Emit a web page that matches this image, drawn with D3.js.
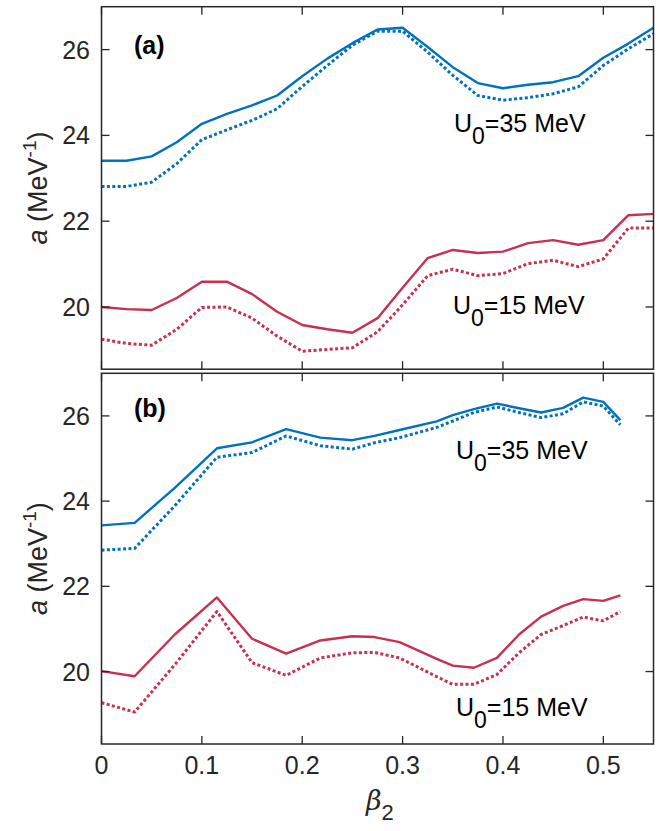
<!DOCTYPE html>
<html>
<head>
<meta charset="utf-8">
<script src="https://cdn.jsdelivr.net/npm/d3@7"></script>
<style>
  body { margin: 0; background: #fff; }
  text { font-family: "Liberation Sans", Arial, sans-serif; fill: #262626; }
</style>
</head>
<body>
<div id="chart"></div>
<script>
    // beta_2 grid and level density parameters, panel (a)
    const betaA = [0, 0.025, 0.05, 0.075, 0.1, 0.125, 0.15, 0.175, 0.2, 0.225, 0.25, 0.275,
                   0.3, 0.325, 0.35, 0.375, 0.4, 0.425, 0.45, 0.475, 0.5, 0.525, 0.55]
    const a35SolidA = [23.41, 23.41, 23.51, 23.84, 24.27, 24.50, 24.70, 24.93, 25.38, 25.79, 26.15, 26.47,
                       26.51, 26.06, 25.59, 25.22, 25.10, 25.18, 25.24, 25.38, 25.81, 26.14, 26.51]
    const a35DotA = [22.81, 22.81, 22.91, 23.34, 23.90, 24.13, 24.35, 24.62, 25.14, 25.63, 26.10, 26.43,
                     26.43, 25.94, 25.40, 24.93, 24.82, 24.88, 24.97, 25.13, 25.63, 26.02, 26.37]
    const a15SolidA = [20.00, 19.95, 19.93, 20.21, 20.59, 20.59, 20.30, 19.89, 19.58, 19.48, 19.40, 19.74,
                       20.45, 21.14, 21.33, 21.26, 21.29, 21.49, 21.56, 21.45, 21.56, 22.14, 22.17]
    const a15DotA = [19.25, 19.15, 19.11, 19.48, 19.99, 20.00, 19.74, 19.32, 18.97, 19.01, 19.05, 19.42,
                     20.05, 20.73, 20.88, 20.73, 20.78, 21.01, 21.09, 20.94, 21.12, 21.84, 21.84]

    // panel (b)
    const betaB = [0, 0.033, 0.073, 0.115, 0.15, 0.184, 0.218, 0.25, 0.272, 0.297,
                   0.334, 0.35, 0.371, 0.394, 0.416, 0.438, 0.46, 0.48, 0.5, 0.517]
    const a35SolidB = [23.43, 23.49, 24.31, 25.24, 25.38, 25.69, 25.49, 25.43, 25.53, 25.67,
                       25.87, 26.02, 26.16, 26.29, 26.18, 26.08, 26.19, 26.43, 26.33, 25.90]
    const a35DotB = [22.85, 22.89, 23.89, 25.03, 25.14, 25.53, 25.30, 25.22, 25.37, 25.49,
                     25.73, 25.88, 26.08, 26.21, 26.08, 25.96, 26.05, 26.33, 26.23, 25.79]
    const a15SolidB = [20.01, 19.89, 20.87, 21.74, 20.77, 20.42, 20.73, 20.83, 20.81, 20.69,
                       20.30, 20.14, 20.09, 20.32, 20.87, 21.29, 21.54, 21.70, 21.66, 21.79]
    const a15DotB = [19.27, 19.05, 20.16, 21.41, 20.21, 19.91, 20.32, 20.44, 20.45, 20.32,
                     19.88, 19.70, 19.70, 19.93, 20.44, 20.87, 21.08, 21.28, 21.19, 21.41]

    const xTicks = [0, 0.1, 0.2, 0.3, 0.4, 0.5]
    const yTicks = [20, 22, 24, 26]
    const xTickLabels = ["0", "0.1", "0.2", "0.3", "0.4", "0.5"]

    const blue = "#0072BD"
    const red = "#C9304F"
    const axisColor = "#262626"

    const svg = d3.select("#chart")
        .append("svg")
        .attr("width", 664)
        .attr("height", 831)
        .style("display", "block")

    const x = d3.scaleLinear().domain([0, 0.55]).range([101.5, 653.5])

    const panels = [
        {label: "(a)", top: 6.7, bottom: 369.2, ymin: 18.55, beta: betaA,
         series: [a35SolidA, a35DotA, a15SolidA, a15DotA],
         u35: [454, 131.5], u15: [453, 314], tag: [134, 54]},
        {label: "(b)", top: 373.3, bottom: 744, ymin: 18.3, beta: betaB,
         series: [a35SolidB, a35DotB, a15SolidB, a15DotB],
         u35: [456, 458.5], u15: [456, 716], tag: [134, 417]}
    ]

    function drawPanel(p, showXLabels)
    {
        const y = d3.scaleLinear().domain([p.ymin, 27]).range([p.bottom, p.top])
        const g = svg.append("g")

        const clipId = "clip" + p.label.replace(/\W/g, "")
        g.append("clipPath").attr("id", clipId)
            .append("rect")
            .attr("x", x(0)).attr("y", p.top)
            .attr("width", x(0.55) - x(0)).attr("height", p.bottom - p.top)

        const line = d3.line()
            .x((d, i) => x(p.beta[i]))
            .y(d => y(d))

        const styles = [
            {color: blue, dotted: false},
            {color: blue, dotted: true},
            {color: red, dotted: false},
            {color: red, dotted: true}
        ]
        p.series.forEach((s, k) => {
            const path = g.append("path")
                .attr("d", line(s))
                .attr("clip-path", "url(#" + clipId + ")")
                .style("fill", "none")
                .style("stroke", styles[k].color)
                .style("stroke-linejoin", "round")
            if (styles[k].dotted) {
                path.style("stroke-width", 3)
                    .style("stroke-dasharray", "3,2.4")
            } else {
                path.style("stroke-width", 2.4)
            }
        })

        // inward ticks on all four sides
        const tickLen = 8
        const ticks = g.append("g").style("stroke", axisColor).style("stroke-width", 1.3)
        xTicks.forEach(t => {
            ticks.append("line").attr("x1", x(t)).attr("x2", x(t))
                .attr("y1", p.bottom).attr("y2", p.bottom - tickLen)
            ticks.append("line").attr("x1", x(t)).attr("x2", x(t))
                .attr("y1", p.top).attr("y2", p.top + tickLen)
        })
        yTicks.forEach(t => {
            ticks.append("line").attr("x1", x(0)).attr("x2", x(0) + tickLen)
                .attr("y1", y(t)).attr("y2", y(t))
            ticks.append("line").attr("x1", x(0.55)).attr("x2", x(0.55) - tickLen)
                .attr("y1", y(t)).attr("y2", y(t))
        })

        g.append("rect")
            .attr("x", x(0)).attr("y", p.top)
            .attr("width", x(0.55) - x(0)).attr("height", p.bottom - p.top)
            .style("fill", "none")
            .style("stroke", axisColor)
            .style("stroke-width", 1.5)

        yTicks.forEach(t => {
            g.append("text")
                .attr("x", 90).attr("y", y(t))
                .attr("dy", "0.36em")
                .attr("text-anchor", "end")
                .style("font-size", "25px")
                .text(t)
        })

        if (showXLabels) {
            xTicks.forEach((t, i) => {
                g.append("text")
                    .attr("x", x(t)).attr("y", 774)
                    .attr("text-anchor", "middle")
                    .style("font-size", "25px")
                    .text(xTickLabels[i])
            })
        }

        // y axis title
        const mid = (p.top + p.bottom) / 2
        const yl = g.append("text")
            .attr("transform", "translate(47," + mid + ") rotate(-90)")
            .attr("text-anchor", "middle")
            .style("font-size", "27px")
        yl.append("tspan").style("font-style", "italic").text("a")
        yl.append("tspan").text(" (MeV")
        yl.append("tspan").attr("dy", -11).style("font-size", "19px").text("-1")
        yl.append("tspan").attr("dy", 11).text(")")

        g.append("text")
            .attr("x", p.tag[0]).attr("y", p.tag[1])
            .style("font-size", "25px")
            .style("font-weight", "bold")
            .style("fill", "#000")
            .text(p.label)

        ;[[p.u35, "35"], [p.u15, "15"]].forEach(([pos, val]) => {
            const t = g.append("text")
                .attr("x", pos[0]).attr("y", pos[1])
                .style("font-size", "25px")
                .style("fill", "#000")
            t.append("tspan").text("U")
            t.append("tspan").attr("dy", 12).style("font-size", "23px").text("0")
            t.append("tspan").attr("dy", -12).text("=" + val + " MeV")
        })
    }

    drawPanel(panels[0], false)
    drawPanel(panels[1], true)

    // x axis title
    const xl = svg.append("text")
        .attr("x", 366).attr("y", 810)
        .style("font-size", "27px")
    xl.append("tspan")
        .style("font-family", "'DejaVu Serif', serif")
        .style("font-style", "italic")
        .text("\u03B2")
    xl.append("tspan").attr("dy", 10).style("font-size", "22px").text("2")
</script>
</body>
</html>
